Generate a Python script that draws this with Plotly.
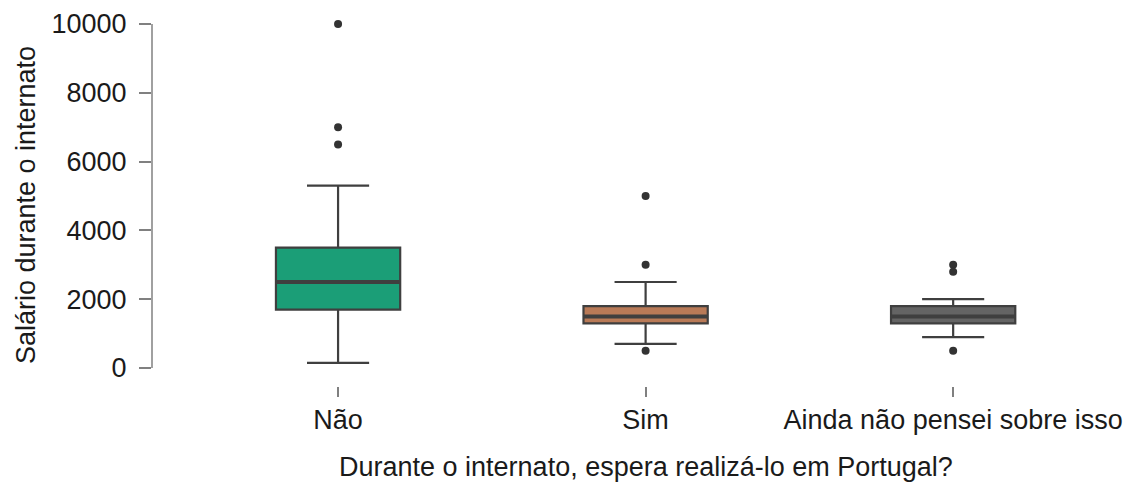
import plotly.graph_objects as go

categories = ["Não", "Sim", "Ainda não pensei sobre isso"]
lower_whisker = [150, 700, 900]
q1 = [1700, 1300, 1300]
median = [2500, 1500, 1500]
q3 = [3500, 1800, 1800]
upper_whisker = [5300, 2500, 2000]
outliers = [[10000, 7000, 6500], [5000, 3000, 500], [3000, 2800, 500]]
colors = ["#1b9e77", "#b97a57", "#646464"]
yticks = [0, 2000, 4000, 6000, 8000, 10000]

edge = "#3f3f3f"
box_w = 0.404
font_family = "Liberation Sans, Arial, sans-serif"
fs = 27

fig = go.Figure()
for i, cat in enumerate(categories):
    fig.add_trace(go.Box(
        x=[i], q1=[q1[i]], median=[median[i]], q3=[q3[i]],
        lowerfence=[lower_whisker[i]], upperfence=[upper_whisker[i]],
        width=box_w, whiskerwidth=0.5,
        fillcolor=colors[i], line=dict(color=edge, width=2.2),
        boxpoints=False, showlegend=False, hoverinfo="skip",
    ))
    fig.add_trace(go.Scatter(
        x=[i - box_w / 2, i + box_w / 2], y=[median[i], median[i]],
        mode="lines", line=dict(color=edge, width=4),
        showlegend=False, hoverinfo="skip",
    ))
    fig.add_trace(go.Scatter(
        x=[i] * len(outliers[i]), y=outliers[i], mode="markers",
        marker=dict(color="#333333", size=8), cliponaxis=False,
        showlegend=False, hoverinfo="skip",
    ))

fig.add_shape(type="line", xref="paper", yref="y", x0=0, x1=0, y0=0, y1=10000,
              line=dict(color="#808080", width=1.5))

fig.add_annotation(
    text="Durante o internato, espera realizá-lo em Portugal?",
    xref="x", x=(len(categories) - 1) / 2, yref="paper", y=-0.224,
    yanchor="middle", xanchor="center", showarrow=False,
    font=dict(size=fs, family=font_family, color="#1a1a1a"),
)

fig.update_layout(
    width=1132, height=484,
    margin=dict(l=152, r=10, t=24, b=98),
    plot_bgcolor="white", paper_bgcolor="white",
    font=dict(family=font_family, size=fs, color="#1a1a1a"),
    xaxis=dict(
        range=[-0.605, 2.549], tickmode="array",
        tickvals=list(range(len(categories))), ticktext=categories,
        showline=False, showgrid=False, zeroline=False,
        ticks="outside", ticklen=10, tickwidth=1.5, tickcolor="#808080",
        tickfont=dict(size=fs),
    ),
    yaxis=dict(
        range=[-523, 10000], tickmode="array", tickvals=yticks,
        ticktext=[str(v) for v in yticks],
        showline=False, showgrid=False, zeroline=False,
        ticks="outside", ticklen=12, tickwidth=1.5, tickcolor="#808080",
        tickfont=dict(size=fs), ticklabelstandoff=7,
        title=dict(text="Salário durante o internato", font=dict(size=fs), standoff=8),
    ),
)

fig.write_html("out.html")
